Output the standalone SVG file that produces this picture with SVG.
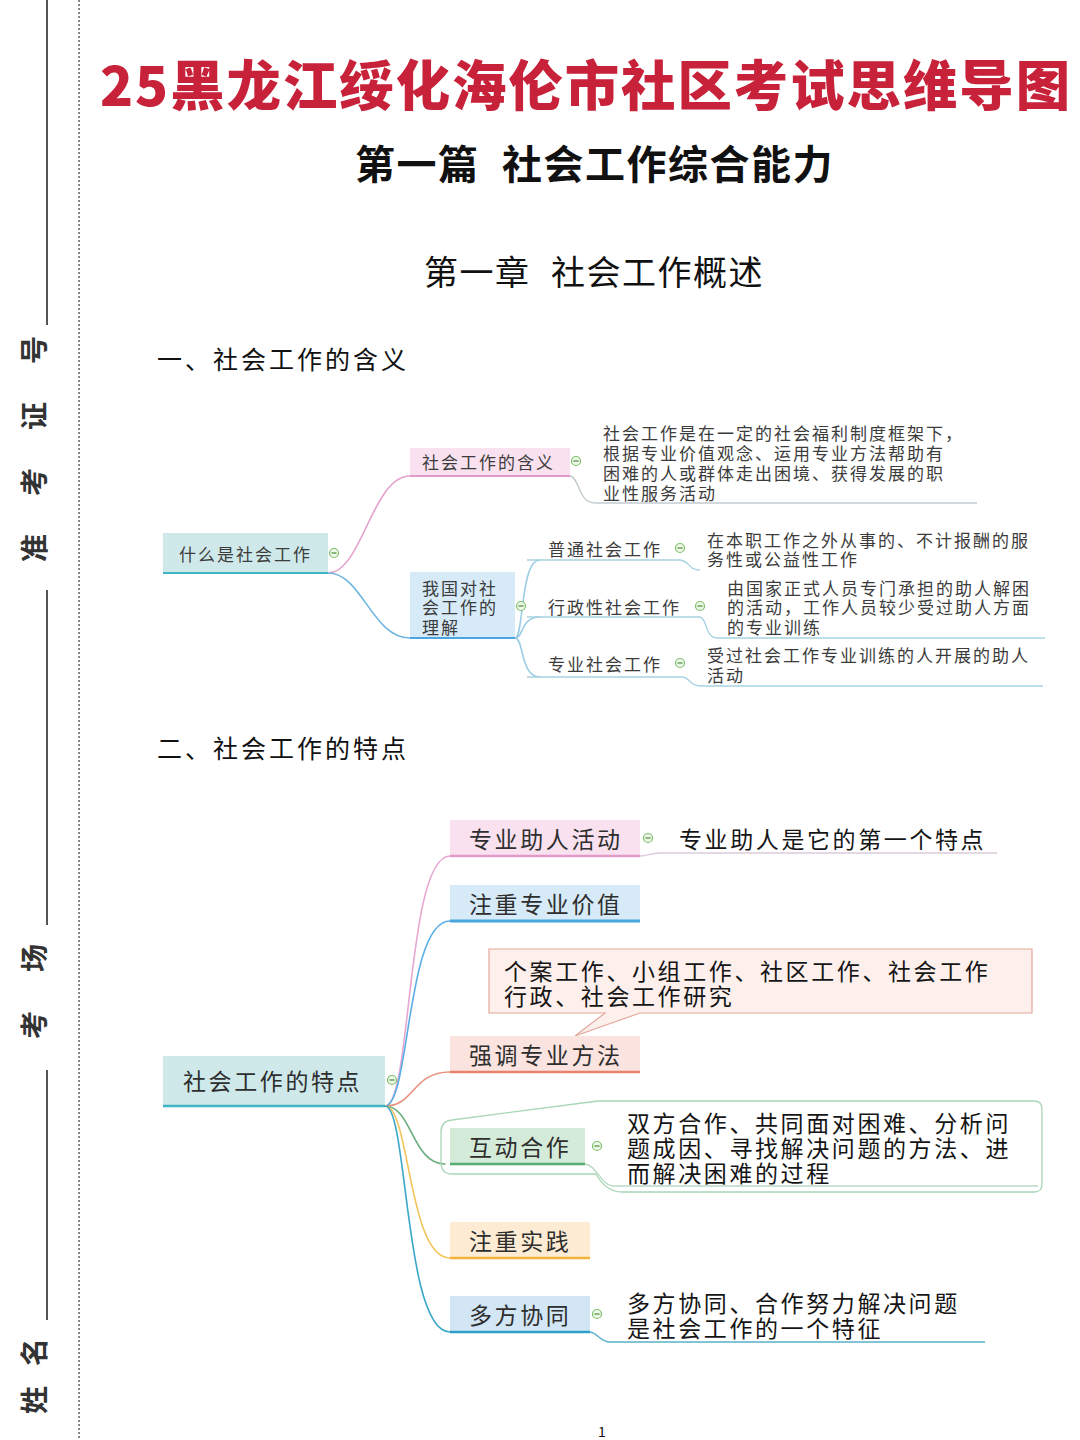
<svg xmlns="http://www.w3.org/2000/svg" xmlns:xlink="http://www.w3.org/1999/xlink" width="1080" height="1440" viewBox="0 0 1080 1440">
<style>
text{font-family:"Noto Sans CJK SC","Noto Sans",sans-serif;dominant-baseline:central}
.title{font-size:54px;font-weight:900;fill:#c8223a;letter-spacing:2px}
.sub{font-size:40px;font-weight:bold;fill:#111;letter-spacing:1.5px}
.chap{font-size:34px;fill:#111;letter-spacing:1.5px}
.hd{font-size:25px;fill:#111;letter-spacing:3px}
.side{font-size:28px;font-weight:bold;fill:#333}
.t1{font-size:17px;letter-spacing:2px;fill:#3c3c3c}
.t2{font-size:23px;letter-spacing:2.6px;fill:#2e2e2e}
.d2{font-size:23px;letter-spacing:2.6px;fill:#151515}
.con{fill:none;stroke-width:1.6;stroke-linecap:round}
.ul{fill:none;stroke-width:1.4}
</style>
<defs>
<g id="col"><circle r="4.5" fill="#eef8e8" stroke="#7cbf6a" stroke-width="1.2"/><line x1="-2.5" y1="0" x2="2.5" y2="0" stroke="#4a8a3a" stroke-width="1.2"/></g>
</defs>
<rect width="1080" height="1440" fill="#fff"/>

<!-- left margin -->
<g id="margin">
<line x1="47" y1="0" x2="47" y2="325" stroke="#555" stroke-width="2"/>
<line x1="47" y1="590" x2="47" y2="925" stroke="#555" stroke-width="2"/>
<line x1="47" y1="1070" x2="47" y2="1320" stroke="#555" stroke-width="2"/>
<line x1="79" y1="0" x2="79" y2="1440" stroke="#888" stroke-width="2" stroke-dasharray="2,2"/>
<text class="side" transform="translate(33,562) rotate(-90)" letter-spacing="38">准考证号</text>
<text class="side" transform="translate(33,1039) rotate(-90)" letter-spacing="39">考场</text>
<text class="side" transform="translate(33,1414) rotate(-90)" letter-spacing="20">姓名</text>
</g>

<!-- titles -->
<g id="titles">
<text class="title" x="100" y="82" textLength="972" lengthAdjust="spacingAndGlyphs">25黑龙江绥化海伦市社区考试思维导图</text>
<text class="sub" x="355" y="162">第一篇</text>
<text class="sub" x="502" y="162">社会工作综合能力</text>
<text class="chap" x="424" y="270">第一章</text>
<text class="chap" x="551" y="270">社会工作概述</text>
<text class="hd" x="157" y="358">一、社会工作的含义</text>
<text class="hd" x="157" y="747">二、社会工作的特点</text>
<text x="602" y="1431" font-size="14" fill="#111" text-anchor="middle">1</text>
</g>

<!-- connectors -->
<g id="connectors">
<!-- map 1 -->
<path class="con" stroke="#e4a2cc" d="M328,573 C362,573 372,476 410,476"/>
<path class="con" stroke="#6fb6e0" d="M328,573 C362,573 372,638 410,638"/>
<path class="ul" stroke="#c4ccd0" d="M570,476 C580,478 578,503 595,503 L977,503"/>
<path class="con" stroke="#9ccde4" stroke-width="1.3" d="M515,638 C524,638 520,560 540,560"/>
<path class="con" stroke="#9ccde4" stroke-width="1.3" d="M515,638 C524,638 520,617 540,617"/>
<path class="con" stroke="#9ccde4" stroke-width="1.3" d="M515,638 C524,638 520,677 540,677"/>
<path class="ul" stroke="#a8d2e2" d="M527,560 L680,560 C690,561 688,570 700,570"/>
<path class="ul" stroke="#a8d2e2" d="M527,617 L700,617 C708,619 704,638 718,638 L1045,638"/>
<path class="ul" stroke="#a8d2e2" d="M527,677 L683,677 C690,678 690,686 700,686 L1043,686"/>
<!-- map 2 -->
<path class="con" stroke="#e6a8d2" d="M385,1106 C412,1106 406,856 450,856"/>
<path class="con" stroke="#5aaee6" stroke-width="2.4" d="M385,1106 C410,1106 406,921 450,921"/>
<path class="con" stroke="#e8907a" stroke-width="2" d="M385,1106 C415,1106 412,1072 450,1072"/>
<path class="con" stroke="#6aae7e" stroke-width="2" d="M385,1106 C412,1106 412,1164 445,1164"/>
<path class="con" stroke="#f2c45a" d="M385,1106 C410,1106 408,1258 450,1258"/>
<path class="con" stroke="#3aa6c8" stroke-width="2" d="M385,1106 C408,1106 404,1332 450,1332"/>
<path class="ul" stroke="#dccbdc" d="M640,856 C648,856 650,853 660,853 L997,853"/>
<path class="ul" stroke="#b8dcc4" d="M585,1164 C598,1166 600,1186 615,1186 L1038,1186"/>
<path class="ul" stroke="#5ab0c8" stroke-width="1.8" d="M590,1332 C598,1333 600,1342 610,1342 L985,1342"/>
</g>

<!-- map 1 nodes -->
<g id="n-root1">
<rect x="163" y="533" width="165" height="40" fill="#cfe9ea"/>
<line x1="163" y1="573" x2="328" y2="573" stroke="#3db5c4" stroke-width="2"/>
<text class="t1" x="179" y="553">什么是社会工作</text>
<use href="#col" x="334" y="553"/>
</g>
<g id="n-hanyi">
<rect x="410" y="448" width="160" height="28" fill="#f9e1ef"/>
<line x1="410" y1="476" x2="570" y2="476" stroke="#e39acb" stroke-width="2"/>
<text class="t1" x="422" y="461">社会工作的含义</text>
<use href="#col" x="576" y="461"/>
</g>
<g id="n-hanyi-desc">
<text class="t1" x="603" y="432">社会工作是在一定的社会福利制度框架下，</text>
<text class="t1" x="603" y="452">根据专业价值观念、运用专业方法帮助有</text>
<text class="t1" x="603" y="472">困难的人或群体走出困境、获得发展的职</text>
<text class="t1" x="603" y="492">业性服务活动</text>
</g>
<g id="n-lijie">
<rect x="410" y="572" width="105" height="66" fill="#d6eaf8"/>
<line x1="410" y1="638" x2="515" y2="638" stroke="#4aa6e0" stroke-width="2"/>
<text class="t1" x="422" y="587">我国对社</text>
<text class="t1" x="422" y="606">会工作的</text>
<text class="t1" x="422" y="626">理解</text>
<use href="#col" x="521" y="606"/>
</g>
<g id="n-putong">
<text class="t1" x="548" y="548">普通社会工作</text>
<use href="#col" x="680" y="548"/>
<text class="t1" x="707" y="539">在本职工作之外从事的、不计报酬的服</text>
<text class="t1" x="707" y="558">务性或公益性工作</text>
</g>
<g id="n-xingzheng">
<text class="t1" x="548" y="606">行政性社会工作</text>
<use href="#col" x="700" y="606"/>
<text class="t1" x="727" y="587">由国家正式人员专门承担的助人解困</text>
<text class="t1" x="727" y="606">的活动，工作人员较少受过助人方面</text>
<text class="t1" x="727" y="626">的专业训练</text>
</g>
<g id="n-zhuanye">
<text class="t1" x="548" y="663">专业社会工作</text>
<use href="#col" x="680" y="663"/>
<text class="t1" x="707" y="654">受过社会工作专业训练的人开展的助人</text>
<text class="t1" x="707" y="674">活动</text>
</g>

<!-- map 2 nodes -->
<g id="n-root2">
<rect x="163" y="1056" width="222" height="50" fill="#cfe9ea"/>
<line x1="163" y1="1106" x2="385" y2="1106" stroke="#3db5c4" stroke-width="2.5"/>
<text class="t2" x="183" y="1080">社会工作的特点</text>
<use href="#col" x="392" y="1080"/>
</g>
<g id="n-zhuren">
<rect x="450" y="820" width="190" height="36" fill="#f9e1ef"/>
<line x1="450" y1="856" x2="640" y2="856" stroke="#e39acb" stroke-width="2.5"/>
<text class="t2" x="469" y="838">专业助人活动</text>
<use href="#col" x="648" y="838"/>
<text class="d2" x="679" y="838">专业助人是它的第一个特点</text>
</g>
<g id="n-jiazhi">
<rect x="450" y="885" width="190" height="36" fill="#d6eaf8"/>
<line x1="450" y1="921" x2="640" y2="921" stroke="#4aa6e0" stroke-width="3"/>
<text class="t2" x="469" y="903">注重专业价值</text>
</g>
<g id="n-callout">
<path d="M489,949 L1032,949 L1032,1013 L640,1013 L575,1036 L605,1013 L489,1013 Z" fill="#fdf0ec" stroke="#e3a89a" stroke-width="1.2"/>
<text class="d2" x="504" y="970">个案工作、小组工作、社区工作、社会工作</text>
<text class="d2" x="504" y="995">行政、社会工作研究</text>
</g>
<g id="n-fangfa">
<rect x="450" y="1036" width="190" height="36" fill="#fbe3df"/>
<line x1="450" y1="1072" x2="640" y2="1072" stroke="#e8826c" stroke-width="2.5"/>
<text class="t2" x="469" y="1054">强调专业方法</text>
</g>
<g id="n-hudong">
<path d="M452,1120 L598,1101 L1034,1101 Q1042,1101 1042,1109 L1042,1184 Q1042,1192 1034,1192 L622,1192 Q606,1192 596,1174 L452,1174 Q441,1174 441,1162 L441,1132 Q441,1121 452,1120 Z" fill="none" stroke="#a8d6b6" stroke-width="1.3"/>
<rect x="450" y="1128" width="135" height="36" fill="#d5ebd9"/>
<line x1="450" y1="1164" x2="585" y2="1164" stroke="#5aad72" stroke-width="2.5"/>
<text class="t2" x="469" y="1146">互动合作</text>
<use href="#col" x="597" y="1146"/>
<text class="d2" x="627" y="1122">双方合作、共同面对困难、分析问</text>
<text class="d2" x="627" y="1147">题成因、寻找解决问题的方法、进</text>
<text class="d2" x="627" y="1172">而解决困难的过程</text>
</g>
<g id="n-shijian">
<rect x="450" y="1222" width="140" height="36" fill="#fdecd3"/>
<line x1="450" y1="1258" x2="590" y2="1258" stroke="#f3b43c" stroke-width="2.5"/>
<text class="t2" x="469" y="1240">注重实践</text>
</g>
<g id="n-xietong">
<rect x="450" y="1296" width="140" height="36" fill="#d3e6f5"/>
<line x1="450" y1="1332" x2="590" y2="1332" stroke="#2ea0cc" stroke-width="2.5"/>
<text class="t2" x="469" y="1314">多方协同</text>
<use href="#col" x="597" y="1314"/>
<text class="d2" x="627" y="1302">多方协同、合作努力解决问题</text>
<text class="d2" x="627" y="1327">是社会工作的一个特征</text>
</g>
</svg>
